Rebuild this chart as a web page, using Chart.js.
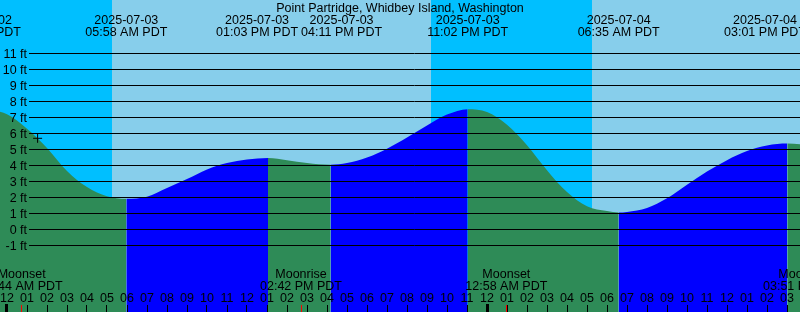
<!DOCTYPE html>
<html lang="en">
<head>
  <meta charset="UTF-8">
  <title>Point Partridge tides</title>
  <script src="https://cdn.jsdelivr.net/npm/chart.js"></script>
  <style>
    * { box-sizing: border-box; }
    body { margin: 0; overflow: hidden; background: #00bfff; }
    #wrap { width: 800px; height: 312px; position: relative; }
  </style>
</head>
<body>
  <div id="wrap"><canvas id="tideChart"></canvas></div>

  <script>
    // hours since 2025-07-03 00:00 PDT
    const stationName = 'Point Partridge, Whidbey Island, Washington';

    // tide curve (ft)
    const tideHours = [-1.35, 0, 1, 2, 3, 4, 5, 5.967, 7, 8, 9, 10, 11, 12, 13.05, 14, 15, 16.183,
      17, 18, 19, 20, 21, 22, 23.033, 24, 25, 26, 27, 28, 29, 30, 30.583, 31, 32, 33, 34, 35,
      36, 37, 38, 39.017, 40];
    const tideFeet = [7.6, 7.2, 6.3, 5.1, 3.65, 2.65, 2.08, 1.92, 2.05, 2.6, 3.15, 3.75, 4.15, 4.37, 4.47, 4.33, 4.16, 4.05,
      4.15, 4.5, 5.05, 5.75, 6.5, 7.18, 7.52, 7.35, 6.55, 5.27, 3.71, 2.34, 1.45, 1.15, 1.06, 1.1, 1.35, 1.95, 2.8, 3.62,
      4.33, 4.9, 5.25, 5.37, 5.3];

    // high / low tide labels on top
    const eventHours = [-1.35, 5.967, 13.05, 16.183, 23.033, 30.583, 39.017];
    const eventDates = ['2025-07-02', '2025-07-03', '2025-07-03', '2025-07-03', '2025-07-03', '2025-07-04', '2025-07-04'];
    const eventTimes = ['10:39 PM PDT', '05:58 AM PDT', '01:03 PM PDT', '04:11 PM PDT', '11:02 PM PDT', '06:35 AM PDT', '03:01 PM PDT'];

    // moon events at the bottom
    const moonHours = [0.733, 14.7, 24.967, 39.85];
    const moonKinds = ['Moonset', 'Moonrise', 'Moonset', 'Moonrise'];
    const moonTimes = ['12:44 AM PDT', '02:42 PM PDT', '12:58 AM PDT', '03:51 PM PDT'];

    // daylight
    const sunriseHours = [5.25, 29.25];
    const sunsetHours = [21.2, 45.2];

    // current time mark
    const nowHour = 1.53;
    const nowFeet = 5.7;

    const yTicks = [-1, 0, 1, 2, 3, 4, 5, 6, 7, 8, 9, 10, 11];
    const hourTicks = [];
    for (let h = 0; h <= 39; h++) hourTicks.push(h);

    const NIGHT = '#00bfff';
    const DAY = '#87ceeb';
    const FLOOD = '#0000ff';
    const EBB = '#2e8b57';
    const FONT = '12.5px "Liberation Sans", Arial, sans-serif';

    function hourLabel(h) {
      const v = ((h % 12) + 12) % 12 || 12;
      return String(v).padStart(2, '0');
    }

    const decor = {
      id: 'decor',
      beforeDatasetsDraw(chart) {
        const { ctx, chartArea: a, scales: { x } } = chart;
        ctx.save();
        ctx.fillStyle = NIGHT;
        ctx.fillRect(a.left, a.top, a.width, a.height);
        ctx.fillStyle = DAY;
        sunriseHours.forEach((h, i) => {
          const x0 = Math.round(Math.max(a.left, x.getPixelForValue(h)));
          const x1 = Math.round(Math.min(a.right, x.getPixelForValue(sunsetHours[i])));
          if (x1 > x0) ctx.fillRect(x0, a.top, x1 - x0, a.height);
        });
        ctx.restore();
      },
      afterDatasetsDraw(chart) {
        const { ctx, chartArea: a, scales: { x, y } } = chart;
        ctx.save();

        // grid lines + ft labels
        ctx.strokeStyle = '#000';
        ctx.lineWidth = 1;
        ctx.fillStyle = '#000';
        ctx.font = FONT;
        ctx.textAlign = 'right';
        ctx.textBaseline = 'alphabetic';
        yTicks.forEach(v => {
          const py = y.getPixelForValue(v);
          ctx.beginPath();
          ctx.moveTo(29, py);
          ctx.lineTo(a.right, py);
          ctx.stroke();
          ctx.fillText(v + ' ft', 27, py + 4.5);
        });

        // title
        ctx.textAlign = 'center';
        ctx.fillText(stationName, (a.left + a.right) / 2, 12);

        // tide event labels, pushed apart when they overlap
        const boxes = eventHours.map((h, i) => {
          const c = x.getPixelForValue(h);
          const dw = ctx.measureText(eventDates[i]).width;
          const w = Math.max(dw, ctx.measureText(eventTimes[i]).width);
          let cc = c;
          if (c >= a.left && c <= a.right && cc + dw / 2 > a.right - 3) cc = a.right - 3 - dw / 2;
          return { c: cc, w };
        });
        for (let i = 1; i < boxes.length; i++) {
          const p = boxes[i - 1], q = boxes[i];
          const over = (p.c + p.w / 2 + 3) - (q.c - q.w / 2);
          if (over > 0) { p.c -= over / 2; q.c += over / 2; }
        }
        boxes.forEach((b, i) => {
          ctx.fillText(eventDates[i], b.c, 24);
          ctx.fillText(eventTimes[i], b.c, 36);
        });

        // moon labels
        moonHours.forEach((h, i) => {
          const c = x.getPixelForValue(h);
          ctx.fillText(moonKinds[i], c, 278);
          ctx.fillText(moonTimes[i], c, 290);
        });

        // hour ticks
        hourTicks.forEach(h => {
          const px = x.getPixelForValue(h);
          ctx.fillText(hourLabel(h), px, 302);
          if (h % 24 === 0) ctx.fillRect(Math.floor(px) - 1, 304, 3, a.bottom - 304);
          else ctx.fillRect(Math.floor(px), 305, 1, a.bottom - 305);
        });
        ctx.fillStyle = '#ff0000';
        moonHours.forEach(h => {
          const px = x.getPixelForValue(h);
          ctx.fillRect(Math.floor(px), 305, 1, a.bottom - 305);
        });

        ctx.restore();
      }
    };

    new Chart(document.getElementById('tideChart'), {
      type: 'line',
      data: {
        datasets: [
          {
            label: 'Tide',
            data: tideHours.map((h, i) => ({ x: h, y: tideFeet[i] })),
            order: 1,
            fill: 'start',
            backgroundColor: FLOOD,
            borderColor: 'rgba(0,0,0,0)',
            borderWidth: 0,
            pointRadius: 0,
            cubicInterpolationMode: 'monotone',
            segment: {
              backgroundColor: c => c.p1.parsed.y >= c.p0.parsed.y ? FLOOD : EBB
            }
          },
          {
            label: 'Now',
            data: [{ x: nowHour, y: nowFeet }],
            order: 0,
            showLine: false,
            pointStyle: 'cross',
            pointRadius: 4.5,
            borderColor: '#000',
            borderWidth: 1
          }
        ]
      },
      options: {
        responsive: true,
        maintainAspectRatio: false,
        animation: false,
        layout: { padding: 0, autoPadding: false },
        plugins: { legend: { display: false }, tooltip: { enabled: false } },
        scales: {
          x: { type: 'linear', display: false, min: -0.35, max: 39.65 },
          y: { type: 'linear', display: false, min: -5.15625, max: 14.34375 }
        }
      },
      plugins: [decor]
    });
  </script>
</body>
</html>
